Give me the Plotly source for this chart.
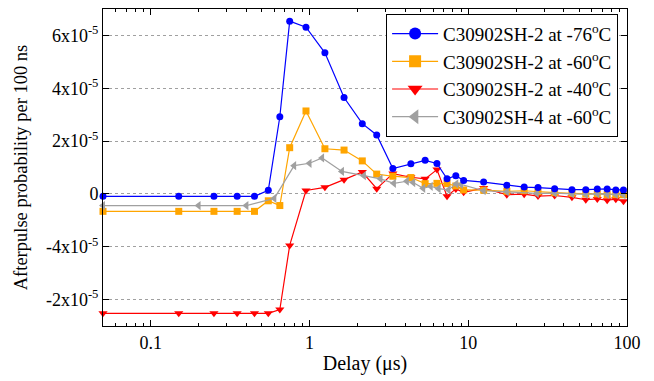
import plotly.graph_objects as go

# Delay (µs)
x_main = [0.05, 0.15, 0.25, 0.35, 0.45, 0.55, 0.65, 0.75, 0.95, 1.25, 1.65, 2.15, 2.65,
          3.35, 4.35, 5.35, 6.35, 7.35, 8.35, 9.35, 12.5, 17.5, 22.5, 27.5, 35, 45, 55,
          65, 75, 85, 95]

# values in units of 1e-5
sh2_m76 = [-0.09, -0.09, -0.09, -0.09, -0.09, 0.14, 2.92, 6.54, 6.31, 5.34, 3.65, 2.66, 2.23,
           0.96, 1.14, 1.27, 1.15, 0.57, 0.69, 0.51, 0.45, 0.33, 0.26, 0.24, 0.20, 0.16, 0.16,
           0.19, 0.19, 0.15, 0.15]
sh2_m60 = [-0.66, -0.66, -0.66, -0.66, -0.66, -0.26, -0.44, 1.75, 3.14, 1.71, 1.66, 1.25, 0.75,
           0.67, 0.62, 0.39, 0.40, 0.39, 0.30, 0.15, 0.14, 0.10, 0.12, 0.08, 0.05, 0.02, 0.00,
           0.00, -0.03, -0.03, -0.03]
sh2_m40 = [-4.52, -4.52, -4.52, -4.52, -4.52, -4.52, -4.38, -1.95, 0.13, 0.25, 0.54, 0.83, 0.20,
           0.77, 0.63, 0.57, 0.92, -0.09, 0.19, 0.06, 0.22, -0.03, -0.01, -0.08, -0.06, -0.13,
           -0.22, -0.19, -0.24, -0.20, -0.28]

x_sh4 = [0.05, 0.2, 0.4, 0.6, 0.8, 1.0, 1.2, 1.6, 2.2, 2.8, 3.4, 4.1, 4.5, 5.2, 5.8, 6.5, 7.5,
         8.4, 9.0, 12.5, 17.5, 27, 35, 45, 55, 65, 75, 85, 95]
sh4_m60 = [-0.44, -0.44, -0.44, -0.17, 1.07, 1.16, 1.36, 0.85, 0.69, 0.57, 0.40, 0.48, 0.43,
           0.21, 0.29, 0.20, 0.15, 0.38, 0.36, 0.12, 0.08, 0.02, 0.03, 0.00, -0.02, 0.00,
           -0.02, -0.02, -0.03]

names = ["C30902SH-2 at -76<sup>o</sup>C", "C30902SH-2 at -60<sup>o</sup>C",
         "C30902SH-2 at -40<sup>o</sup>C", "C30902SH-4 at -60<sup>o</sup>C"]

ytick_vals = [-4e-5, -2e-5, 0, 2e-5, 4e-5, 6e-5]
ytick_text = ["-2x10<sup>-5</sup>", "-4x10<sup>-5</sup>", "0",
              "2x10<sup>-5</sup>", "4x10<sup>-5</sup>", "6x10<sup>-5</sup>"]
xtick_vals = [0.1, 1, 10, 100]
xtick_text = ["0.1", "1", "10", "100"]

scale = 1e-5
FONT = "Times New Roman, Liberation Serif, serif"

fig = go.Figure()
series = [
    (x_main, sh2_m40, names[2], "#FF0000", "triangle-down", 8, 13, 3),
    (x_main, sh2_m60, names[1], "#FFA500", "square", 7, 12, 2),
    (x_sh4, sh4_m60, names[3], "#A0A0A0", "triangle-left", 8, 13, 4),
    (x_main, sh2_m76, names[0], "#0000FF", "circle", 7, 12, 1),
]
for xs, ys, nm, col, sym, sz, lsz, rank in series:
    fig.add_trace(go.Scatter(
        x=xs, y=[v * scale for v in ys], name=nm, mode="lines+markers",
        line=dict(color=col, width=1.2),
        marker=dict(color=col, symbol=sym, size=sz),
        cliponaxis=False, legendgroup=nm, showlegend=False,
    ))
    fig.add_trace(go.Scatter(
        x=[None], y=[None], name=nm, mode="lines+markers",
        line=dict(color=col, width=1.2),
        marker=dict(color=col, symbol=sym, size=lsz),
        legendgroup=nm, legendrank=rank, showlegend=True,
    ))

fig.update_layout(
    width=654, height=381,
    margin=dict(l=103, r=27, t=9, b=55),
    paper_bgcolor="white", plot_bgcolor="white",
    font=dict(family=FONT, size=18, color="black"),
    showlegend=True,
    legend=dict(
        x=0.983, xanchor="right", y=0.985, yanchor="top",
        bordercolor="black", borderwidth=1, bgcolor="white",
        font=dict(family=FONT, size=19),
        tracegroupgap=0, itemwidth=46,
    ),
)
fig.update_xaxes(
    type="log", range=[-1.30103, 2],
    tickvals=xtick_vals, ticktext=xtick_text, tickfont=dict(size=18),
    ticks="inside", ticklen=6, tickcolor="black", tickwidth=1,
    minor=dict(ticks="inside", ticklen=3, tickcolor="black",
               tickvals=[0.06, 0.07, 0.08, 0.09, 0.2, 0.3, 0.4, 0.5, 0.6, 0.7, 0.8, 0.9,
                         2, 3, 4, 5, 6, 7, 8, 9, 20, 30, 40, 50, 60, 70, 80, 90],
               showgrid=False),
    showline=True, linecolor="black", linewidth=1, mirror="ticks",
    showgrid=False, zeroline=False,
    title=dict(text="Delay (μs)", font=dict(family=FONT, size=20), standoff=4),
)
fig.update_yaxes(
    range=[-5e-5, 7e-5],
    tickvals=ytick_vals, ticktext=ytick_text, tickfont=dict(size=18),
    ticks="inside", ticklen=6, tickcolor="black",
    showline=True, linecolor="black", linewidth=1, mirror="ticks",
    showgrid=True, gridcolor="#A0A0A0", griddash="dot", gridwidth=1,
    zeroline=False,
    title=dict(text="Afterpulse probability per 100 ns", font=dict(family=FONT, size=18.5),
               standoff=13),
)

fig.write_html("out.html", config={"displayModeBar": False},
               post_script="document.body.style.margin='0';")
